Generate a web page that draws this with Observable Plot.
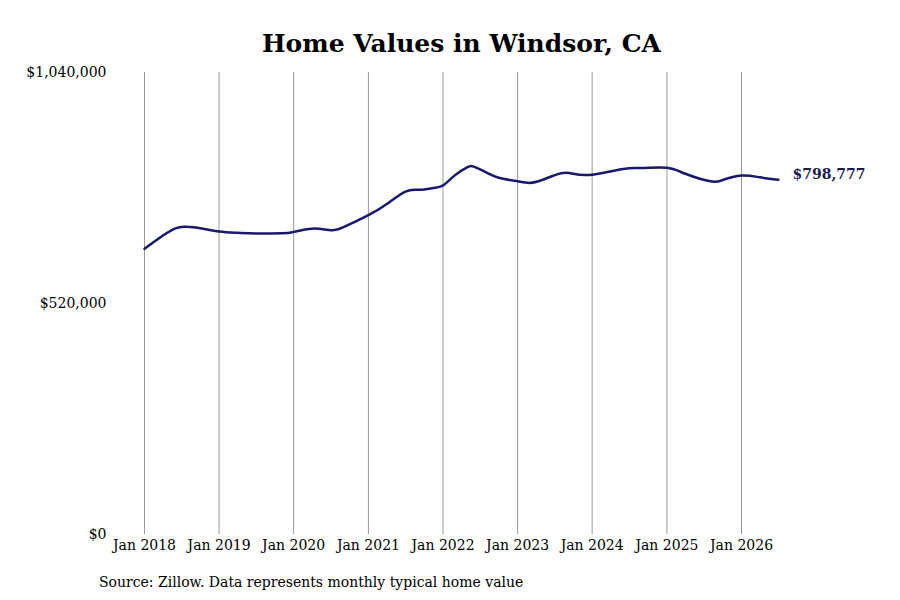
<!DOCTYPE html>
<html>
<head>
<meta charset="utf-8">
<script src="https://cdn.jsdelivr.net/npm/d3@7"></script>
<script src="https://cdn.jsdelivr.net/npm/@observablehq/plot@0.6"></script>
<style>
  html, body { margin: 0; padding: 0; background: #fff; }
  #wrap { width: 900px; height: 600px; position: relative; font-family: "DejaVu Serif", serif; }
  #title { height: 62px; box-sizing: border-box; padding-top: 30px; padding-left: 23px; line-height: 28px; font-size: 25px; font-weight: bold; text-align: center; color: #000; }
  #caption { margin-top: 10px; margin-left: 99px; font-size: 14px; line-height: 20px; color: #000; }
  svg { display: block; }
</style>
</head>
<body>
<div id="wrap">
  <div id="title">Home Values in Windsor, CA</div>
  <div id="chart"></div>
  <div id="caption">Source: Zillow. Data represents monthly typical home value</div>
</div>
<script>
const dates = ["2018-01","2018-03","2018-06","2018-08","2018-10","2019-01","2019-04","2019-07","2019-11",
  "2020-01","2020-04","2020-07","2020-09","2021-01","2021-04","2021-07","2021-09","2021-11",
  "2022-01","2022-03","2022-05","2022-06","2022-08","2022-10","2023-01","2023-03","2023-05","2023-08","2023-10",
  "2024-01","2024-06","2024-09","2025-01","2025-04","2025-08","2025-10","2026-01","2026-04","2026-07"];
const values = [643000,663000,689000,692500,689500,682000,679000,677500,678000,
  681000,688500,685000,692000,719000,744000,772000,776000,779000,
  786000,809000,827000,828000,815000,803000,795000,791500,798000,813000,812000,
  810000,823000,825000,825400,812000,795000,798000,808000,804000,798777];
const yTicks = [0, 520000, 1040000];
const xTicks = ["2018-01","2019-01","2020-01","2021-01","2022-01","2023-01","2024-01","2025-01","2026-01"];

const parse = d3.utcParse("%Y-%m");
const data = dates.map((d, i) => ({date: parse(d), value: values[i]}));
const last = data[data.length - 1];
const money = d => "$" + d3.format(",")(d);

const chart = Plot.plot({
  width: 900,
  height: 500,
  marginTop: 10,
  marginBottom: 28,
  marginLeft: 144,
  marginRight: 122,
  style: {fontFamily: "DejaVu Serif, serif", fontSize: "14px", color: "#000", background: "#fff"},
  x: {type: "utc", domain: [parse("2018-01"), parse("2026-07")]},
  y: {domain: [0, 1040000]},
  marks: [
    Plot.ruleX(xTicks.map(parse), {stroke: "#999", strokeWidth: 1}),
    Plot.axisX({ticks: xTicks.map(parse), tickFormat: d3.utcFormat("%b %Y"), tickSize: 0, tickPadding: 6, fontSize: 14, label: null}),
    Plot.axisY({ticks: yTicks, tickFormat: money, tickSize: 0, tickPadding: 38, fontSize: 14, label: null}),
    Plot.line(data, {x: "date", y: "value", stroke: "#18186c", strokeWidth: 2.5, curve: "natural"}),
    Plot.text([last], {x: "date", y: "value", text: d => money(d.value), dx: 14, dy: -5, textAnchor: "start", fontWeight: "bold", fill: "#1a1a50", fontSize: 14})
  ]
});
document.getElementById("chart").appendChild(chart);
</script>
</body>
</html>
